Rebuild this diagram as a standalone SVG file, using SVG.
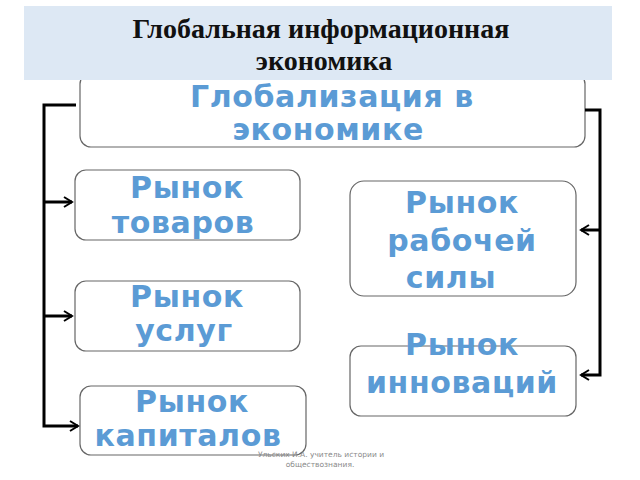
<svg xmlns="http://www.w3.org/2000/svg" width="640" height="480" viewBox="0 0 640 480">
<style>
.box{fill:#ffffff;stroke:#666666;stroke-width:1.2}
.lbl{font-family:"DejaVu Sans",sans-serif;font-weight:bold;fill:#5b9bd5;text-anchor:middle;font-size:30px;letter-spacing:0.6px}
.title{font-family:"Liberation Serif",serif;font-weight:bold;fill:#111111;text-anchor:middle;font-size:28px}
.conn{fill:none;stroke:#000000;stroke-width:3}
.foot{font-family:"DejaVu Sans",sans-serif;fill:#8a8a8a;text-anchor:middle;font-size:7.5px}
</style>
<defs>
<marker id="arr" markerUnits="userSpaceOnUse" markerWidth="14" markerHeight="14" refX="10" refY="7" orient="auto">
<path d="M2,2 L10,7 L2,12" fill="none" stroke="#000" stroke-width="2"/>
</marker>
</defs>
<rect width="640" height="480" fill="#ffffff"/>
<g id="node-globalization">
<rect class="box" x="80" y="73" width="505" height="74" rx="11" stroke="#999999"/>
<text class="lbl" x="332" y="107">Глобализация в</text>
<text class="lbl" x="328" y="140">экономике</text>
</g>
<g id="node-header">
<rect x="24" y="6" width="588" height="74" fill="#dde8f4"/>
<text class="title" x="321" y="38">Глобальная информационная</text>
<text class="title" x="324" y="70">экономика</text>
</g>
<g id="node-goods">
<rect class="box" x="75" y="170" width="225" height="70" rx="11"/>
<text class="lbl" x="187" y="198">Рынок</text>
<text class="lbl" x="183" y="233">товаров</text>
</g>
<g id="node-services">
<rect class="box" x="75" y="281" width="225" height="70" rx="11"/>
<text class="lbl" x="187" y="307">Рынок</text>
<text class="lbl" x="184" y="341">услуг</text>
</g>
<g id="node-capital">
<rect class="box" x="80" y="386" width="226" height="69" rx="11"/>
<text class="lbl" x="192" y="412">Рынок</text>
<text class="lbl" x="188" y="446">капиталов</text>
</g>
<g id="node-labour">
<rect class="box" x="350" y="181" width="226" height="115" rx="14"/>
<text class="lbl" x="462" y="213">Рынок</text>
<text class="lbl" x="462" y="251">рабочей</text>
<text class="lbl" x="451" y="288">силы</text>
</g>
<g id="node-innovation">
<rect class="box" x="350" y="346" width="226" height="70" rx="11"/>
<text class="lbl" x="462" y="355">Рынок</text>
<text class="lbl" x="462" y="393">инноваций</text>
</g>
<g id="connectors">
<path class="conn" d="M76,105 H44 V426 H78" marker-end="url(#arr)"/>
<path class="conn" d="M44,202 H72" marker-end="url(#arr)"/>
<path class="conn" d="M44,316 H72" marker-end="url(#arr)"/>
<path class="conn" d="M585,110 H600 V375 H581" marker-end="url(#arr)"/>
<path class="conn" d="M600,230 H581" marker-end="url(#arr)"/>
</g>
<g id="footer">
<text class="foot" x="321" y="457">Ульских И.А. учитель истории и</text>
<text class="foot" x="320" y="467">обществознания.</text>
</g>
</svg>
